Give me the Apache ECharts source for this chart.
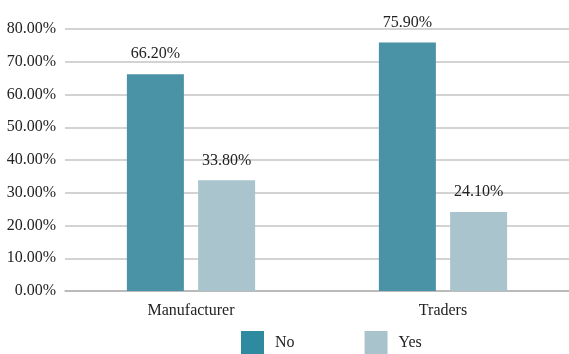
<!DOCTYPE html>
<html>
<head>
<meta charset="utf-8">
<script src="https://cdn.jsdelivr.net/npm/echarts@6/dist/echarts.min.js"></script>
<style>
  html, body { margin: 0; padding: 0; background: #fff; }
  #chart { width: 569px; height: 354px; }
</style>
</head>
<body>
<div id="chart"></div>
<script>
// Survey answers by respondent type (percent)
const categories = ['Manufacturer', 'Traders'];
const noValues = [66.2, 75.9];
const yesValues = [33.8, 24.1];
const seriesNames = ['No', 'Yes'];

const FONT = '"Liberation Serif", "DejaVu Serif", serif';
const barColors = ['#4a92a6', '#a9c4cd'];
const legendColors = ['#2e8a9e', '#a9c3cd'];

const pct = v => v.toFixed(2) + '%';

const chart = echarts.init(document.getElementById('chart'), null, { renderer: 'canvas' });

function barSeries(name, values, color) {
  return {
    name: name,
    type: 'bar',
    data: values,
    barWidth: 57,
    barGap: '25%',
    itemStyle: { color: color },
    label: {
      show: true,
      position: 'top',
      distance: 12,
      formatter: p => pct(p.value),
      fontFamily: FONT,
      fontSize: 16,
      color: '#222'
    }
  };
}

chart.setOption({
  animation: false,
  textStyle: { fontFamily: FONT },
  grid: { left: 65, right: 0, top: 29, bottom: 63, containLabel: false },
  legend: {
    bottom: 0,
    left: 241,
    padding: 0,
    itemWidth: 23,
    itemHeight: 23,
    itemGap: 70,
    icon: 'rect',
    textStyle: { fontFamily: FONT, fontSize: 16, color: '#222', padding: [7, 0, 0, 6] },
    data: [
      { name: seriesNames[0], itemStyle: { color: legendColors[0] } },
      { name: seriesNames[1], itemStyle: { color: legendColors[1] } }
    ]
  },
  xAxis: {
    type: 'category',
    data: categories,
    axisLine: { show: true, lineStyle: { color: '#b3b3b3', width: 1.5 } },
    axisTick: { show: false },
    axisLabel: { fontFamily: FONT, fontSize: 16, color: '#222', margin: 12 }
  },
  yAxis: {
    type: 'value',
    min: 0,
    max: 80,
    interval: 10,
    axisLine: { show: false },
    axisTick: { show: false },
    splitLine: { lineStyle: { color: '#c4c4c4', width: 1.5 } },
    axisLabel: {
      fontFamily: FONT,
      fontSize: 16,
      color: '#222',
      margin: 9,
      formatter: v => pct(v)
    }
  },
  series: [
    barSeries(seriesNames[0], noValues, barColors[0]),
    barSeries(seriesNames[1], yesValues, barColors[1])
  ]
});
</script>
</body>
</html>
